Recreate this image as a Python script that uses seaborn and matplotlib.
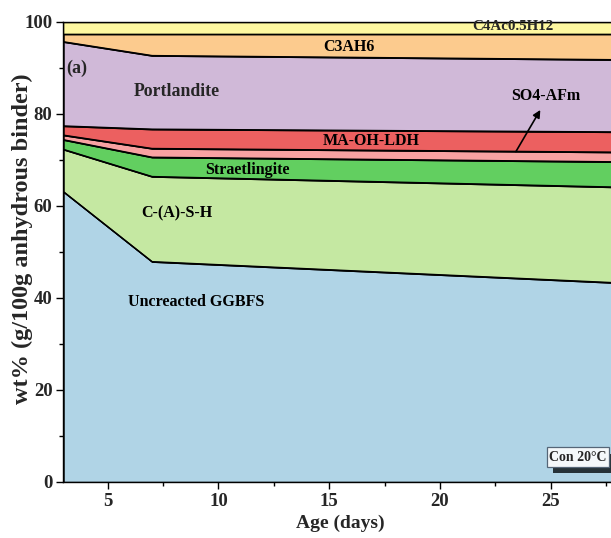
import numpy as np
import pandas as pd
import matplotlib
matplotlib.use("Agg")
import matplotlib.pyplot as plt
import seaborn as sns
from matplotlib.ticker import MultipleLocator

days = [3, 7, 28]
phases = ["Uncreacted GGBFS", "C-(A)-S-H", "Straetlingite", "SO4-AFm",
          "MA-OH-LDH", "Portlandite", "C3AH6", "C4Ac0.5H12"]
ggbfs = [63.1, 47.9, 43.3]
csh = [9.2, 18.5, 20.8]
straetlingite = [2.1, 4.2, 5.5]
so4_afm = [1.0, 1.9, 2.1]
ma_oh_ldh = [2.0, 4.2, 4.4]
portlandite = [18.3, 16.0, 15.7]
c3ah6 = [1.7, 4.7, 5.6]
c4ac = [2.6, 2.6, 2.6]
colors = ["#b0d4e6", "#c5e8a2", "#62cf60", "#f8a2a2",
          "#ec6060", "#d0b9d8", "#fccb8e", "#fef8a0"]

sns.set_theme(style="ticks")
plt.rcParams["font.family"] = ["Liberation Serif", "DejaVu Serif"]
plt.rcParams["font.weight"] = "bold"

df = pd.DataFrame({"day": days, phases[0]: ggbfs, phases[1]: csh, phases[2]: straetlingite,
                   phases[3]: so4_afm, phases[4]: ma_oh_ldh, phases[5]: portlandite,
                   phases[6]: c3ah6, phases[7]: c4ac})

fig = plt.figure(figsize=(6.11, 5.38), dpi=100)
ax = fig.add_axes([63.5/611, 56/538, (617-63.5)/611, 460/538])
ax.stackplot(df["day"], *[df[p] for p in phases], colors=colors,
             edgecolor="black", linewidth=1.0)
cum = df[phases].cumsum(axis=1)
for p in phases[:-1]:
    sns.lineplot(x=df["day"], y=cum[p], ax=ax, color="black", linewidth=1.0, legend=False)

ax.set_xlim(3, 28)
ax.set_ylim(0, 100)
ax.xaxis.set_major_locator(MultipleLocator(5))
ax.xaxis.set_minor_locator(MultipleLocator(2.5))
ax.yaxis.set_major_locator(MultipleLocator(20))
ax.yaxis.set_minor_locator(MultipleLocator(10))
ax.tick_params(which="major", direction="out", length=5, width=1, labelsize=13.5, color="black")
ax.tick_params(which="minor", direction="out", length=3, width=1, color="black")
for lab in ax.get_xticklabels() + ax.get_yticklabels():
    lab.set_fontweight("bold")
ax.tick_params(axis="x", pad=3)
ax.tick_params(axis="y", pad=3)
for s in ax.spines.values():
    s.set_color("black")
    s.set_linewidth(1)
ax.set_xlabel("Age (days)", fontsize=14, fontweight="bold", labelpad=3)
ax.set_ylabel("wt% (g/100g anhydrous binder)", fontsize=17.5, fontweight="bold")
ax.yaxis.set_label_coords(-0.055, 0.53)

tk = dict(fontsize=11.5, fontweight="bold", ha="center", va="center", color="black")
ax.text(23.3, 99.0, "C4Ac0.5H12", fontsize=10.8, fontweight="bold", ha="center", va="center")
ax.text(15.9, 94.6, "C3AH6", **tk)
ax.text(3.13, 90.0, "(a)", fontsize=13, fontweight="bold", ha="left", va="center")
ax.text(8.1, 84.8, "Portlandite", fontsize=12.8, fontweight="bold", ha="center", va="center")
ax.text(24.8, 83.9, "SO4-AFm", **tk)
ax.annotate("", xy=(24.6, 81.4), xytext=(23.37, 71.3),
            arrowprops=dict(arrowstyle="-|>", color="black", lw=1.2, mutation_scale=11))
ax.text(16.9, 74.2, "MA-OH-LDH", **tk)
ax.text(11.3, 67.9, "Straetlingite", **tk)
ax.text(8.1, 58.5, "C-(A)-S-H", **tk)
ax.text(9.0, 39.1, "Uncreacted GGBFS", **tk)
# box with shadow
ax.add_patch(plt.Rectangle((25.1, 2.0), 6, 4.0, facecolor="#263238", edgecolor="none",
                           zorder=3, clip_on=True))
ax.add_patch(plt.Rectangle((24.86, 3.3), 2.76, 4.4, facecolor="#f4f8fa", edgecolor="#556677",
                           lw=0.9, zorder=4, clip_on=True))
ax.text(24.95, 5.4, "Con 20\u00b0C", fontsize=10, fontweight="bold", ha="left", va="center",
        zorder=5)

fig.savefig("out.png", dpi=100)
